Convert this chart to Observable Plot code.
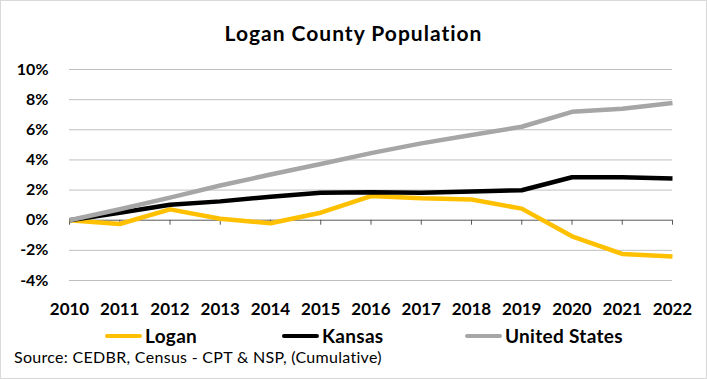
<!DOCTYPE html>
<html><head><meta charset="utf-8">
<script src="https://cdn.jsdelivr.net/npm/d3@7"></script>
<script src="https://cdn.jsdelivr.net/npm/@observablehq/plot@0.6"></script>
<style>
body{margin:0;background:#fff;font-family:Lato,"Open Sans",sans-serif;}
#wrap{position:relative;width:707px;height:379px;overflow:hidden;}
#border{position:absolute;left:0;top:0;width:705px;height:377px;border:1px solid #D9D9D9;pointer-events:none;}
#title{position:absolute;left:0;top:0;width:707px;height:65px;line-height:65px;text-align:center;font-weight:bold;font-size:21px;letter-spacing:1px;color:#000;}
#chart{position:absolute;left:0;top:60px;}
.leg{position:absolute;top:327.5px;font-weight:bold;font-size:19px;line-height:16px;letter-spacing:0.3px;color:#000;display:flex;align-items:center;height:16px;white-space:nowrap;}
.sw{display:inline-block;width:37px;height:4px;border-radius:2px;margin-right:3px;}
#source{position:absolute;left:14px;top:350px;font-size:16px;line-height:14px;letter-spacing:0.3px;color:#000;white-space:nowrap;}
</style></head>
<body><div id="wrap">
<div id="title">Logan County Population</div>
<div id="chart"></div>
<div id="legend"></div>
<div id="source">Source: CEDBR, Census - CPT &amp; NSP, (Cumulative)</div>
<div id="border"></div>
</div>
<script>
const years = [2010,2011,2012,2013,2014,2015,2016,2017,2018,2019,2020,2021,2022];
const logan = [0,-0.25,0.72,0.1,-0.2,0.5,1.6,1.45,1.38,0.77,-1.07,-2.24,-2.41];
const kansas = [0,0.5,1.03,1.25,1.56,1.82,1.86,1.82,1.9,1.99,2.85,2.85,2.76];
const us = [0,0.73,1.5,2.3,3.03,3.73,4.45,5.1,5.66,6.2,7.19,7.39,7.78];
const seriesNames = ["Logan","Kansas","United States"];
const seriesColors = ["#FFC000","#000000","#A6A6A6"];
const yTicks = [-4,-2,0,2,4,6,8,10];

const rows = [];
[logan,kansas,us].forEach((vals,si)=>vals.forEach((v,i)=>rows.push({series:seriesNames[si],year:years[i],value:v})));

const plot = Plot.plot({
  width:707, height:258,
  marginLeft:69, marginRight:35, marginTop:9, marginBottom:38,
  style:{fontFamily:"Lato, 'Open Sans', sans-serif", background:"transparent"},
  x:{domain:[years[0],years[years.length-1]]},
  y:{domain:[-4,10]},
  color:{domain:seriesNames, range:seriesColors},
  marks:[
    Plot.gridY(yTicks.filter(d=>d!==0),{stroke:"#BFBFBF",strokeOpacity:1,strokeWidth:1}),
    Plot.ruleY([0],{stroke:"#595959",strokeWidth:1}),
    Plot.ruleX(years,{x:d=>d,y1:()=>0,y2:()=>0,insetBottom:-5,stroke:"#595959",strokeWidth:1}),
    Plot.axisY(yTicks,{tickSize:0,tickPadding:21,tickFormat:d=>d+"%",fontWeight:"bold",fontSize:16,fill:"#000",label:null}),
    Plot.axisX(years,{tickSize:0,tickPadding:22,tickFormat:d=>String(d),fontWeight:"bold",fontSize:17,fill:"#000",label:null}),
    Plot.line(rows,{x:"year",y:"value",z:"series",stroke:"series",strokeWidth:4.5,strokeLinejoin:"round",strokeLinecap:"butt"})
  ]
});
document.getElementById("chart").appendChild(plot);

const legPos = [105,282,465];
const leg = document.getElementById("legend");
seriesNames.forEach((n,i)=>{
  const d = document.createElement("div");
  d.className="leg"; d.style.left=legPos[i]+"px";
  d.innerHTML = `<span class="sw" style="background:${seriesColors[i]}"></span>${n}`;
  leg.appendChild(d);
});
</script>
</body></html>
